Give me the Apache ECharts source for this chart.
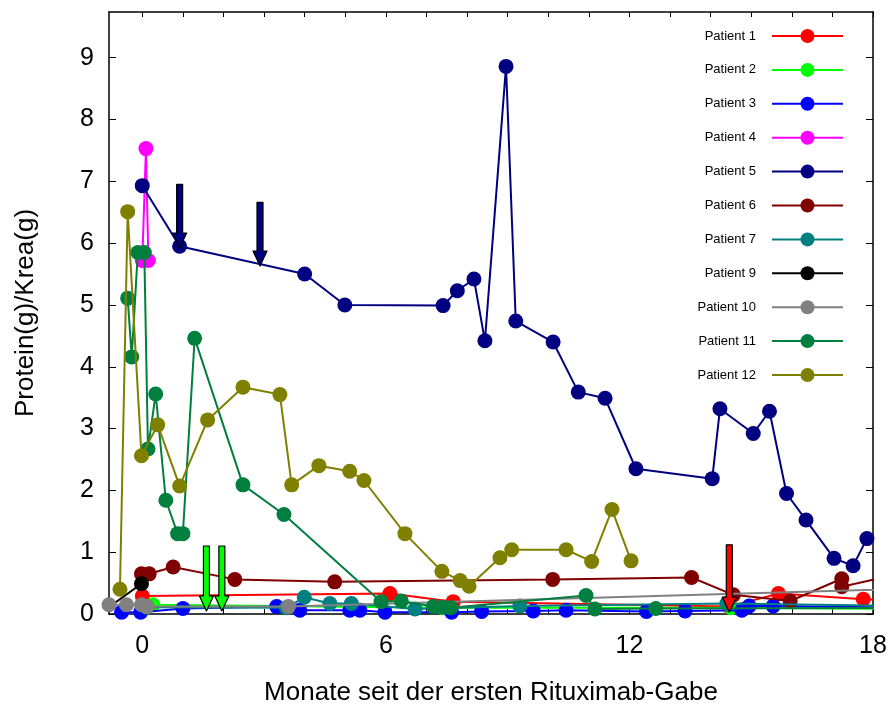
<!DOCTYPE html>
<html>
<head>
<meta charset="utf-8">
<script src="https://cdn.jsdelivr.net/npm/echarts@6/dist/echarts.min.js"></script>
<style>
  html, body { margin: 0; padding: 0; background: #fff; }
  #chart { width: 890px; height: 711px; }
</style>
</head>
<body>
<div id="chart"></div>
<script>
// Protein/creatinine ratio per patient: [months since first rituximab dose, ratio]
const patient1 = [[0.0,0.29],[6.1,0.33],[7.66,0.2],[14.46,0.12],[15.67,0.33],[17.76,0.24],[19,0.2]];
const patient2 = [[0.26,0.15],[7.4,0.1],[14.5,0.1],[19,0.08]];
const patient3 = [[-0.51,0.03],[-0.04,0.03],[1.0,0.09],[3.31,0.12],[3.88,0.06],[5.11,0.06],[5.36,0.06],[5.98,0.03],[7.62,0.03],[8.36,0.04],[9.63,0.05],[10.44,0.06],[12.42,0.04],[13.37,0.05],[14.77,0.06],[14.95,0.13],[15.54,0.13],[19,0.1]];
const patient4 = [[0.0,5.72],[0.09,7.53],[0.15,5.72]];
const patient5 = [[0,6.93],[0.92,5.95],[4.0,5.5],[4.99,5.0],[7.41,4.99],[7.76,5.23],[8.17,5.42],[8.44,4.42],[8.96,8.86],[9.2,4.74],[10.12,4.4],[10.74,3.59],[11.4,3.49],[12.16,2.35],[14.04,2.19],[14.23,3.32],[15.05,2.92],[15.45,3.28],[15.87,1.95],[16.35,1.52],[17.04,0.9],[17.51,0.78],[17.85,1.22]];
const patient6 = [[-0.02,0.65],[0.17,0.65],[0.76,0.76],[2.28,0.56],[4.74,0.52],[10.11,0.56],[13.53,0.59],[14.56,0.31],[15.96,0.21],[17.23,0.57],[17.23,0.44],[19,0.7]];
const patient7 = [[0.1,0.11],[3.55,0.1],[3.99,0.27],[4.62,0.17],[5.15,0.17],[6.72,0.08],[9.3,0.13],[14.4,0.17],[19,0.13]];
const patient9 = [[-0.85,0.1],[-0.02,0.49]];
const patient10 = [[-0.82,0.15],[-0.39,0.15],[-0.02,0.15],[0.12,0.12],[3.6,0.12],[20,0.43]];
const patient11 = [[-0.36,5.11],[-0.26,4.16],[-0.11,5.85],[0.05,5.85],[0.14,2.67],[0.33,3.56],[0.58,1.84],[0.87,1.3],[1.0,1.3],[1.29,4.46],[2.48,2.09],[3.49,1.61],[5.88,0.2],[6.38,0.21],[7.17,0.12],[7.41,0.11],[7.6,0.1],[10.93,0.3],[11.15,0.08],[12.65,0.09],[19,0.1]];
const patient12 = [[-0.55,0.4],[-0.36,6.51],[-0.02,2.56],[0.38,3.06],[0.92,2.07],[1.61,3.14],[2.48,3.67],[3.39,3.55],[3.68,2.09],[4.35,2.4],[5.11,2.31],[5.46,2.16],[6.47,1.3],[7.38,0.69],[7.83,0.54],[8.05,0.45],[8.81,0.91],[9.1,1.04],[10.44,1.04],[11.07,0.85],[11.57,1.69],[12.04,0.86]];

const seriesNames = ['Patient 1','Patient 2','Patient 3','Patient 4','Patient 5','Patient 6','Patient 7','Patient 9','Patient 10','Patient 11','Patient 12'];
const seriesData = [patient1,patient2,patient3,patient4,patient5,patient6,patient7,patient9,patient10,patient11,patient12];
const seriesColors = ['#ff0000','#00ff00','#0000ff','#ff00ff','#000080','#800000','#008080','#000000','#808080','#007f3f','#808000'];

// Treatment arrows: [month, top of shaft, tip]
const arrowPoints = [[0.92,6.95,5.92],[2.9,6.66,5.63],[1.58,1.1,0.05],[1.96,1.1,0.05],[14.46,1.12,0.03]];
const arrowColors = ['#000080','#000080','#00ff00','#00ff00','#ff0000'];

const xTickLabels = [0, 6, 12, 18];
const xMinorTicks = [0,1,2,3,4,5,6,7,8,9,10,11,12,13,14,15,16,17,18];
const yTickLabels = [0,1,2,3,4,5,6,7,8,9];

const FONT = '"Liberation Sans", Arial, Helvetica, sans-serif';
const axisLine = { show: true, onZero: false, lineStyle: { color: '#000', width: 1.5 } };
const tickStyle = { color: '#000', width: 1 };

const lineSeries = seriesNames.map((name, i) => ({
  type: 'line',
  name: name,
  data: seriesData[i],
  symbol: 'circle',
  symbolSize: 15,
  showSymbol: true,
  clip: true,
  color: seriesColors[i],
  lineStyle: { width: 2, color: seriesColors[i] },
  itemStyle: { color: seriesColors[i] },
  z: 2 + i * 0.01
}));

const arrowSeries = {
  type: 'custom',
  name: 'arrows',
  data: arrowPoints,
  encode: { x: 0, y: [1, 2] },
  z: 10,
  clip: false,
  renderItem: function (params, api) {
    const top = api.coord([api.value(0), api.value(1)]);
    const tip = api.coord([api.value(0), api.value(2)]);
    const x = top[0];
    const w = 3, hw = 7, hl = 15;
    const neck = tip[1] - hl;
    return {
      type: 'polygon',
      shape: { points: [
        [x - w, top[1]], [x + w, top[1]], [x + w, neck], [x + hw, neck],
        [x, tip[1]], [x - hw, neck], [x - w, neck]
      ] },
      style: { fill: arrowColors[params.dataIndex], stroke: '#000', lineWidth: 1.2, lineJoin: 'round' }
    };
  }
};

const chart = echarts.init(document.getElementById('chart'), null, { renderer: 'canvas' });
chart.setOption({
  animation: false,
  backgroundColor: '#fff',
  grid: { left: 109, right: 17, top: 12, bottom: 96, containLabel: false },
  legend: {
    data: seriesNames,
    orient: 'vertical',
    right: 41,
    top: 24,
    align: 'right',
    itemWidth: 71,
    itemHeight: 17.5,
    itemGap: 19.9,
    selectedMode: false,
    textStyle: { fontFamily: FONT, fontSize: 13, color: '#000', padding: [0, 11, 0, 0] }
  },
  xAxis: [
    {
      type: 'value', min: -0.82, max: 18, position: 'bottom',
      axisLine: axisLine,
      axisTick: { show: true, inside: true, length: 5, customValues: xMinorTicks, lineStyle: tickStyle },
      axisLabel: { customValues: xTickLabels, fontFamily: FONT, fontSize: 25, color: '#000', margin: 20 },
      splitLine: { show: false },
      name: 'Monate seit der ersten Rituximab-Gabe',
      nameLocation: 'middle', nameGap: 66,
      nameTextStyle: { fontFamily: FONT, fontSize: 26, color: '#000' }
    },
    {
      type: 'value', min: -0.82, max: 18, position: 'top',
      axisLine: axisLine,
      axisTick: { show: true, inside: true, length: 5, customValues: xMinorTicks, lineStyle: tickStyle },
      axisLabel: { show: false },
      splitLine: { show: false }
    }
  ],
  yAxis: [
    {
      type: 'value', min: 0, max: 9.74, position: 'left',
      axisLine: axisLine,
      axisTick: { show: true, inside: true, length: 7, customValues: yTickLabels, lineStyle: tickStyle },
      axisLabel: { customValues: yTickLabels, fontFamily: FONT, fontSize: 25, color: '#000', margin: 15 },
      splitLine: { show: false },
      name: 'Protein(g)/Krea(g)',
      nameLocation: 'middle', nameGap: 70, nameRotate: 90,
      nameTextStyle: { fontFamily: FONT, fontSize: 26, color: '#000' }
    },
    {
      type: 'value', min: 0, max: 9.74, position: 'right',
      axisLine: axisLine,
      axisTick: { show: true, inside: true, length: 7, customValues: yTickLabels, lineStyle: tickStyle },
      axisLabel: { show: false },
      splitLine: { show: false }
    }
  ],
  series: lineSeries.concat([arrowSeries])
});
</script>
</body>
</html>
